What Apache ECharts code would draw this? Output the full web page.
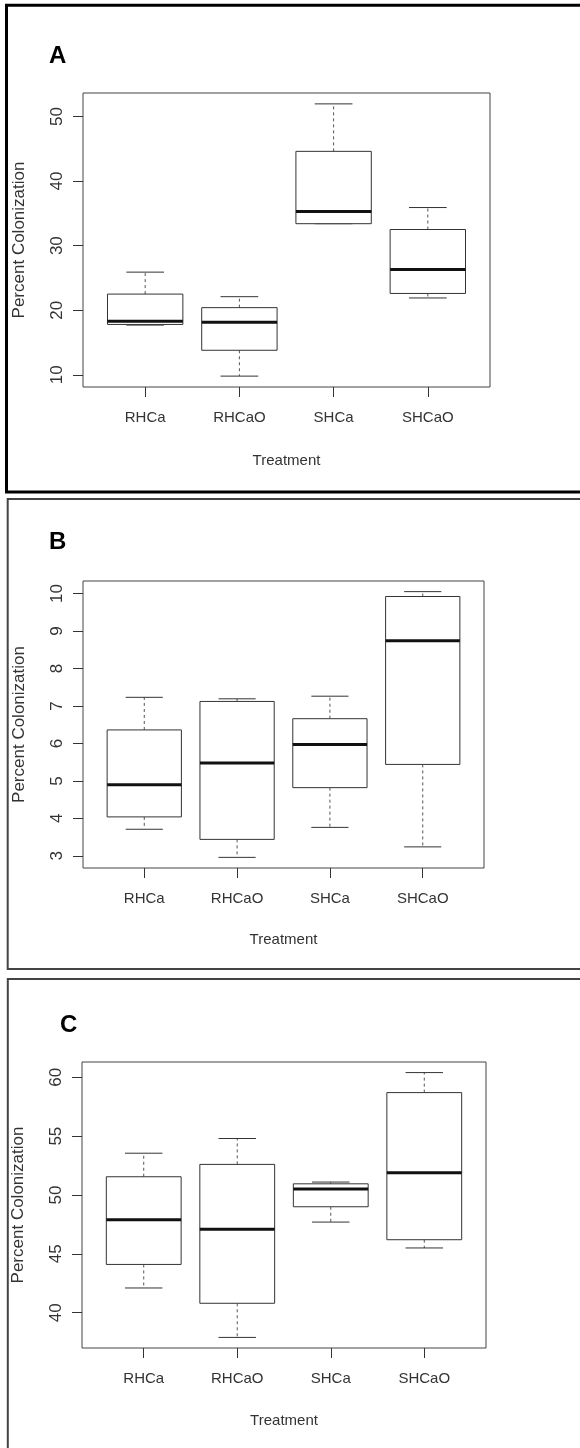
<!DOCTYPE html>
<html>
<head>
<meta charset="utf-8">
<script src="https://cdn.jsdelivr.net/npm/echarts@6/dist/echarts.min.js"></script>
<style>
  html, body { margin: 0; padding: 0; background: #fff; }
  #main { width: 580px; height: 1448px; }
</style>
</head>
<body>
<div id="main"></div>
<script>
// treatments on the x axis
var categories = ['RHCa', 'RHCaO', 'SHCa', 'SHCaO'];

// box stats per treatment: [lower whisker, Q1, median, Q3, upper whisker]
var statsA = [
    [17.7, 17.8, 18.3, 22.5, 25.9],
    [9.8, 13.8, 18.15, 20.4, 22.1],
    [33.4, 33.4, 35.3, 44.6, 51.95],
    [21.9, 22.6, 26.3, 32.5, 35.9]
];
var statsB = [
    [3.71, 4.04, 4.90, 6.36, 7.23],
    [2.96, 3.44, 5.48, 7.12, 7.19],
    [3.76, 4.82, 5.97, 6.66, 7.26],
    [3.24, 5.44, 8.74, 9.92, 10.05]
];
var statsC = [
    [42.1, 44.1, 47.9, 51.55, 53.55],
    [37.9, 40.8, 47.1, 52.6, 54.8],
    [47.7, 49.0, 50.5, 50.95, 51.1],
    [45.5, 46.2, 51.9, 58.7, 60.4]
];

// y tick labels per panel
var ticksA = [10, 20, 30, 40, 50];
var ticksB = [3, 4, 5, 6, 7, 8, 9, 10];
var ticksC = [40, 45, 50, 55, 60];
var xTicks = [1, 2, 3, 4];

var panelLetters = ['A', 'B', 'C'];

var FONT = 'Liberation Sans, Arial, sans-serif';
var TXT = '#333';

// R style range: data range padded by 4% on each side
function rRange(stats) {
    var lo = Infinity, hi = -Infinity;
    stats.forEach(function(s) {
        lo = Math.min(lo, s[0]);
        hi = Math.max(hi, s[4]);
    });
    var pad = (hi - lo) * 0.04;
    return [lo - pad, hi + pad];
}

function toRows(stats) {
    return stats.map(function(s, i) {
        return [i + 1, s[0], s[1], s[2], s[3], s[4]];
    });
}

function renderBox(params, api) {
    var x = api.value(0);
    var lo = api.coord([x, api.value(1)]);
    var q1 = api.coord([x, api.value(2)]);
    var md = api.coord([x, api.value(3)]);
    var q3 = api.coord([x, api.value(4)]);
    var hi = api.coord([x, api.value(5)]);
    var w = api.size([0.8, 0])[0];
    var cx = lo[0];
    var dash = { stroke: '#555', lineWidth: 1, lineDash: [3, 3] };
    var solid = { stroke: '#333', lineWidth: 1 };
    return {
        type: 'group',
        children: [
            { type: 'line', shape: { x1: cx, y1: q3[1], x2: cx, y2: hi[1] }, style: dash },
            { type: 'line', shape: { x1: cx, y1: q1[1], x2: cx, y2: lo[1] }, style: dash },
            { type: 'line', shape: { x1: cx - w / 4, y1: hi[1], x2: cx + w / 4, y2: hi[1] }, style: solid },
            { type: 'line', shape: { x1: cx - w / 4, y1: lo[1], x2: cx + w / 4, y2: lo[1] }, style: solid },
            { type: 'rect', shape: { x: cx - w / 2, y: q3[1], width: w, height: q1[1] - q3[1] },
              style: { fill: '#fff', stroke: '#333', lineWidth: 1 } },
            { type: 'line', shape: { x1: cx - w / 2, y1: md[1], x2: cx + w / 2, y2: md[1] },
              style: { stroke: '#111', lineWidth: 3 } }
        ]
    };
}

var grids = [
    { left: 83, top: 93, width: 407, height: 294 },
    { left: 83, top: 581, width: 401, height: 287 },
    { left: 82, top: 1062, width: 404, height: 286 }
];
var allStats = [statsA, statsB, statsC];
var allTicks = [ticksA, ticksB, ticksC];
var nameGaps = [66, 64, 65];

var xAxes = [], yAxes = [], series = [];
for (var i = 0; i < 3; i++) {
    var r = rRange(allStats[i]);
    xAxes.push({
        type: 'value',
        gridIndex: i,
        min: 0.34,
        max: 4.66,
        splitLine: { show: false },
        axisLine: { show: false },
        axisTick: { show: true, customValues: xTicks, length: 10, lineStyle: { color: TXT } },
        axisLabel: {
            customValues: xTicks,
            formatter: function(v) { return categories[Math.round(v) - 1]; },
            margin: 23,
            fontSize: 15,
            color: TXT,
            fontFamily: FONT
        },
        name: 'Treatment',
        nameLocation: 'middle',
        nameGap: nameGaps[i],
        nameTextStyle: { fontSize: 15, color: TXT, fontFamily: FONT }
    });
    yAxes.push({
        type: 'value',
        gridIndex: i,
        min: r[0],
        max: r[1],
        splitLine: { show: false },
        axisLine: { show: false },
        axisTick: { show: true, customValues: allTicks[i], length: 10, lineStyle: { color: TXT } },
        axisLabel: {
            customValues: allTicks[i],
            rotate: 90,
            margin: 17,
            fontSize: 17,
            color: TXT,
            fontFamily: FONT
        },
        name: 'Percent Colonization',
        nameLocation: 'middle',
        nameGap: 55,
        nameTextStyle: { fontSize: 17, color: TXT, fontFamily: FONT }
    });
    series.push({
        type: 'custom',
        xAxisIndex: i,
        yAxisIndex: i,
        renderItem: renderBox,
        encode: { x: 0, y: [1, 2, 3, 4, 5] },
        data: toRows(allStats[i]),
        silent: true
    });
}

var gridOpts = grids.map(function(g) {
    return {
        left: g.left, top: g.top, width: g.width, height: g.height,
        show: true, borderColor: '#444', borderWidth: 1, backgroundColor: 'transparent'
    };
});

var myChart = echarts.init(document.getElementById('main'), null, { renderer: 'canvas' });
myChart.setOption({
    backgroundColor: '#fff',
    animation: false,
    grid: gridOpts,
    xAxis: xAxes,
    yAxis: yAxes,
    series: series,
    graphic: [
        // panel frames
        { type: 'rect', shape: { x: 6.5, y: 5.3, width: 700, height: 486.7 },
          style: { fill: 'none', stroke: '#000', lineWidth: 3 }, silent: true },
        { type: 'rect', shape: { x: 7.7, y: 499, width: 700, height: 470 },
          style: { fill: 'none', stroke: '#444', lineWidth: 2 }, silent: true },
        { type: 'rect', shape: { x: 7.8, y: 979, width: 700, height: 600 },
          style: { fill: 'none', stroke: '#444', lineWidth: 2 }, silent: true },
        // panel letters
        { type: 'text', x: 49, y: 56, style: { text: panelLetters[0], font: 'bold 24px ' + FONT, fill: '#000', verticalAlign: 'middle' } },
        { type: 'text', x: 49, y: 542, style: { text: panelLetters[1], font: 'bold 24px ' + FONT, fill: '#000', verticalAlign: 'middle' } },
        { type: 'text', x: 60, y: 1025, style: { text: panelLetters[2], font: 'bold 24px ' + FONT, fill: '#000', verticalAlign: 'middle' } }
    ]
});
</script>
</body>
</html>
